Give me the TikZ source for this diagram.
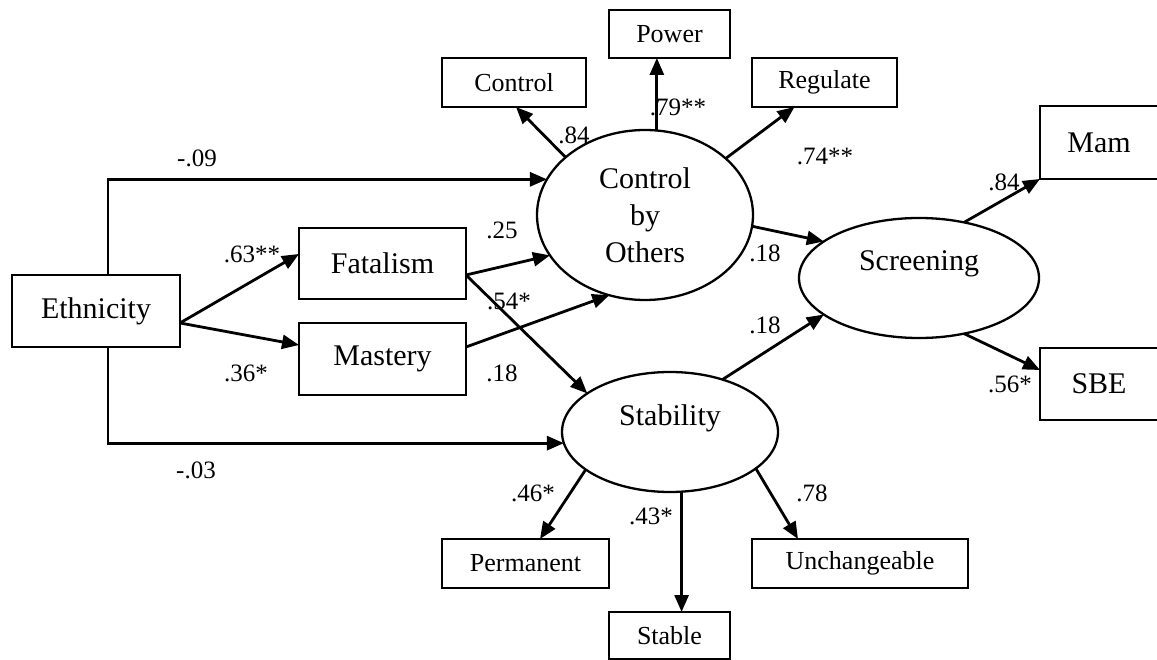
\documentclass[tikz,border=0pt]{standalone}
\usepackage{fontspec}
\setmainfont{Liberation Serif}
\usetikzlibrary{arrows.meta,shapes.geometric}
\begin{document}
\begin{tikzpicture}[x=1pt,y=-1pt,
  bigtxt/.style={font=\fontsize{30}{37}\selectfont},
  smalltxt/.style={font=\fontsize{26}{30}\selectfont},
  box/.style={draw, rectangle, line width=2.6pt, inner sep=0pt, outer sep=0pt, align=center},
  lat/.style={draw, ellipse, line width=2.3pt, inner sep=0pt, outer sep=0pt, align=center, font=\fontsize{30}{37}\selectfont},
  lbl/.style={font=\fontsize{25}{30}\selectfont, inner sep=0pt},
  arr/.style={line width=2.8pt, -{Triangle[length=17pt,width=14pt]}}
]
\fill[white] (0,0) rectangle (1157,660);
\clip (0,0) rectangle (1157,660);

% boxes
\node[box,bigtxt,minimum width=168pt,minimum height=72pt] (eth) at (96,311) {Ethnicity};
\node[box,bigtxt,minimum width=167pt,minimum height=71pt] (fat) at (382.5,263.5) {Fatalism};
\node[box,bigtxt,minimum width=167pt,minimum height=72pt] (mas) at (382.5,359) {Mastery};
\node[box,smalltxt,minimum width=144pt,minimum height=49pt] (ctl) at (514,82.5) {Control};
\node[box,smalltxt,minimum width=121pt,minimum height=48pt] (pow) at (669.5,34) {Power};
\node[box,smalltxt,minimum width=145pt,minimum height=49pt] (reg) at (824.5,82.5) {Regulate};
\node[box,bigtxt,minimum width=118pt,minimum height=73pt] (mam) at (1099,142.5) {Mam};
\node[box,bigtxt,minimum width=118pt,minimum height=72pt] (sbe) at (1099,384) {SBE};
\node[box,smalltxt,minimum width=167pt,minimum height=49pt] (perm) at (525.5,563.5) {Permanent};
\node[box,smalltxt,minimum width=121pt,minimum height=47pt] (stb) at (669.5,635.5) {Stable};
\node[box,smalltxt,minimum width=216pt,minimum height=49pt] (unch) at (860,563.5) {Unchangeable};

% latent variables
\node[lat,minimum width=216pt,minimum height=170pt] (cbo) at (645,215) {Control\\by\\Others};
\node[lat,minimum width=240pt,minimum height=120pt,
      label={[bigtxt,yshift=14pt]center:Screening}] (scr) at (919,278) {};
\node[lat,minimum width=216pt,minimum height=120pt,
      label={[bigtxt,yshift=14pt]center:Stability}] (stab) at (670,432) {};

% paths
\draw[arr] ([xshift=12pt]eth.north) |- (cbo.160);
\draw[arr] ([xshift=12pt]eth.south) |- (stab.186);
\draw[arr] ([yshift=-12pt]eth.east) -- ([yshift=9.5pt]fat.west);
\draw[arr] ([yshift=-12pt]eth.east) -- ([yshift=14pt]mas.west);
\draw[arr] ([yshift=-11.5pt]fat.east) -- (cbo.203);
\draw[arr] ([yshift=-11.5pt]fat.east) -- (stab.155);
\draw[arr] ([yshift=12pt]mas.east) -- (cbo.246);
\draw[arr] (cbo.144) -- ([xshift=2pt]ctl.south);
\draw[arr] (cbo.82) -- (cbo.82 |- pow.south);
\draw[arr] (cbo.35) -- ([xshift=-30pt]reg.south);
\draw[arr] (cbo.-6) -- (scr.159);
\draw[arr] (stab.45) -- (scr.201);
\draw[arr] (scr.51) -- (mam.south west);
\draw[arr] (scr.-51) -- ([yshift=14pt]sbe.west);
\draw[arr] (stab.204) -- ([xshift=14.5pt]perm.north);
\draw[arr] (stab.-79) -- (stab.-79 |- stb.north);
\draw[arr] (stab.-23) -- ([xshift=-62pt]unch.north);

% coefficients
\node[lbl] (l1) at (197,158) {-.09};
\node[lbl] (l2) at (252,254) {.63**};
\node[lbl] (l3) at (246,373) {.36*};
\node[lbl] (l4) at (196,470) {-.03};
\node[lbl] (l5) at (502,230) {.25};
\node[lbl] (l6) at (509,301) {.54*};
\node[lbl] (l7) at (502,373) {.18};
\node[lbl] (l8) at (574,135) {.84};
\node[lbl] (l9) at (678,107) {.79**};
\node[lbl] (l10) at (825,156) {.74**};
\node[lbl] (l11) at (765,253) {.18};
\node[lbl] (l12) at (765,325) {.18};
\node[lbl] (l13) at (1004,182) {.84};
\node[lbl] (l14) at (1010,384) {.56*};
\node[lbl] (l15) at (533,493) {.46*};
\node[lbl] (l16) at (651,516) {.43*};
\node[lbl] (l17) at (812,493) {.78};
\end{tikzpicture}
\end{document}
